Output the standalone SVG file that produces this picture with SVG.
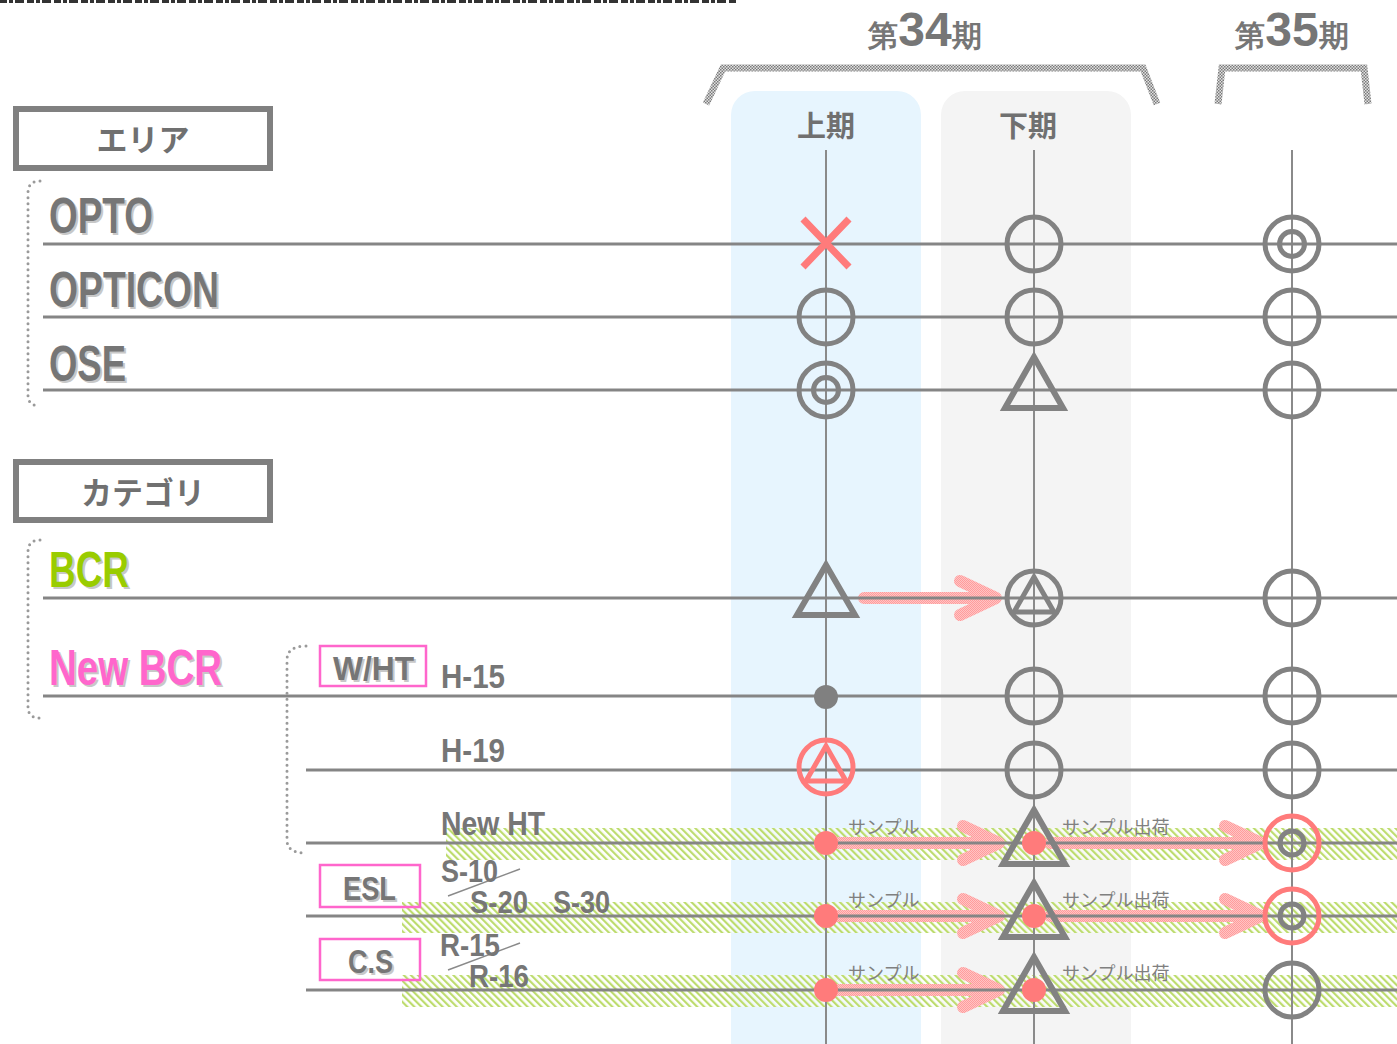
<svg xmlns="http://www.w3.org/2000/svg" width="1397" height="1044" viewBox="0 0 1397 1044">
<style>
.hl{stroke:#858585;stroke-width:3;fill:none}
.vl{stroke:#8a8a8a;stroke-width:2;fill:none}
.dot{stroke:#9a9a9a;stroke-width:3;stroke-dasharray:0 6;stroke-linecap:round;fill:none}
.big{font-family:"Liberation Sans Narrow","Liberation Sans",Arial,sans-serif;font-weight:bold}
.gt{fill:#767676}
.sh{fill:#c8c8c8}
.jp{font-family:"Noto Sans CJK JP","Noto Sans",sans-serif;font-weight:bold;fill:#707070}
.sm{font-family:"Noto Sans CJK JP","Noto Sans",sans-serif;fill:#808080;font-size:18px}
.ring{fill:none;stroke:#828282;stroke-width:5}
.rring{fill:none;stroke:#ff7b7b;stroke-width:5}
.box{fill:#fff;stroke:#808080;stroke-width:6}
.pbox{fill:none;stroke:#ff66cc;stroke-width:2.5}
.arr{fill:none;stroke:url(#pk);stroke-width:12;stroke-linecap:round;stroke-linejoin:round}
.sl{stroke:#8a8a8a;stroke-width:1.5}
</style>
<defs>
<pattern id="hatch" width="5" height="5" patternUnits="userSpaceOnUse" patternTransform="rotate(-45)">
<rect width="5" height="5" fill="#ffffff" fill-opacity="0.55"/>
<rect width="2.2" height="5" fill="#bddc6e"/>
</pattern>
<pattern id="chk" width="3" height="3" patternUnits="userSpaceOnUse">
<rect width="3" height="3" fill="#e2e2e2"/>
<rect width="1.5" height="1.5" fill="#7a7a7a"/>
<rect x="1.5" y="1.5" width="1.5" height="1.5" fill="#7a7a7a"/>
</pattern>
<pattern id="pk" width="2" height="2" patternUnits="userSpaceOnUse">
<rect width="2" height="2" fill="#ffc4c4"/>
<rect width="1" height="1" fill="#ff9c9c"/>
<rect x="1" y="1" width="1" height="1" fill="#ff9c9c"/>
</pattern>
<g id="circ"><circle r="27" class="ring"/></g>
<g id="dbl"><circle r="27" class="ring"/><circle r="12.5" class="ring"/></g>
<g id="dtri"><path d="M0,-33 L-31,21 L31,21 Z" fill="none" stroke="#828282" stroke-width="6"/><circle r="12" fill="#ff7b7b"/></g>
<g id="rdbl"><circle r="27" class="rring"/><circle r="12" class="ring"/></g>
</defs>
<rect width="1397" height="1044" fill="#fff"/>
<line x1="0" y1="1.5" x2="737" y2="1.5" stroke="#333" stroke-width="3" stroke-dasharray="7 2 4 2 9 3"/>
<!-- columns -->
<rect x="731" y="91" width="190" height="980" rx="24" fill="#e7f5fe"/>
<rect x="941" y="91" width="190" height="980" rx="24" fill="#f4f4f4"/>
<!-- header -->
<g id="h34">
<polyline points="706,104 723,68 1143,68 1157,104" fill="none" stroke="url(#chk)" stroke-width="7"/>
<text x="925" y="46" text-anchor="middle" class="big gt" font-size="48"><tspan font-size="30">第</tspan>34<tspan font-size="30">期</tspan></text>
</g>
<g id="h35">
<polyline points="1218,104 1222,68 1364,68 1368,104" fill="none" stroke="url(#chk)" stroke-width="7"/>
<text x="1292" y="46" text-anchor="middle" class="big gt" font-size="48"><tspan font-size="30">第</tspan>35<tspan font-size="30">期</tspan></text>
</g>
<g id="k1"><text x="826" y="137" text-anchor="middle" class="jp" font-size="29">上期</text></g>
<g id="k2"><text x="1028" y="137" text-anchor="middle" class="jp" font-size="29">下期</text></g>
<!-- green bands -->
<rect x="446" y="828" width="951" height="32" fill="url(#hatch)"/>
<rect x="402" y="902" width="995" height="31" fill="url(#hatch)"/>
<rect x="402" y="975" width="995" height="32" fill="url(#hatch)"/>
<!-- connectors -->
<g id="connectors">
<path class="arr" d="M864,598 H995 M960,581 L996,598 L960,615"/>
<path class="arr" d="M838,843 H998 M963,826 L999,843 L963,860"/>
<path class="arr" d="M1050,843 H1258 M1225,826 L1261,843 L1225,860"/>
<path class="arr" d="M838,916 H998 M963,899 L999,916 L963,933"/>
<path class="arr" d="M1050,916 H1258 M1225,899 L1261,916 L1225,933"/>
<path class="arr" d="M838,990 H998 M963,973 L999,990 L963,1007"/>
<line class="vl" x1="826" y1="150" x2="826" y2="1044"/>
<line class="vl" x1="1034" y1="150" x2="1034" y2="1044"/>
<line class="vl" x1="1292" y1="150" x2="1292" y2="1044"/>
<line class="hl" x1="43" y1="244" x2="1397" y2="244"/>
<line class="hl" x1="43" y1="317" x2="1397" y2="317"/>
<line class="hl" x1="43" y1="390" x2="1397" y2="390"/>
<line class="hl" x1="43" y1="598" x2="1397" y2="598"/>
<line class="hl" x1="43" y1="696" x2="1397" y2="696"/>
<line class="hl" x1="306" y1="770" x2="1397" y2="770"/>
<line class="hl" x1="306" y1="843" x2="1397" y2="843"/>
<line class="hl" x1="306" y1="916" x2="1397" y2="916"/>
<line class="hl" x1="306" y1="990" x2="1397" y2="990"/>
<path class="dot" d="M40,181 Q28,181 28,193 L28,395 Q28,406 40,406"/>
<path class="dot" d="M40,540 Q28,540 28,552 L28,707 Q28,718 40,718"/>
<path class="dot" d="M306,646 Q287,646 287,660 L287,840 Q287,853 306,853"/>
<line class="sl" x1="448" y1="896" x2="520" y2="869"/>
<line class="sl" x1="448" y1="970" x2="520" y2="943"/>
</g>
<!-- left labels -->
<g id="area"><rect x="16" y="109" width="254" height="59" class="box"/><text x="143" y="151" text-anchor="middle" class="jp" font-size="31">エリア</text></g>
<g id="cat"><rect x="16" y="462" width="254" height="58" class="box"/><text x="143" y="504" text-anchor="middle" class="jp" font-size="31">カテゴリ</text></g>
<g id="opto"><text x="51" y="235" class="big sh" font-size="50" textLength="104" lengthAdjust="spacingAndGlyphs">OPTO</text><text x="49" y="233" class="big gt" font-size="50" textLength="104" lengthAdjust="spacingAndGlyphs">OPTO</text></g>
<g id="opticon"><text x="51" y="309" class="big sh" font-size="50" textLength="170" lengthAdjust="spacingAndGlyphs">OPTICON</text><text x="49" y="307" class="big gt" font-size="50" textLength="170" lengthAdjust="spacingAndGlyphs">OPTICON</text></g>
<g id="ose"><text x="51" y="383" class="big sh" font-size="50" textLength="77" lengthAdjust="spacingAndGlyphs">OSE</text><text x="49" y="381" class="big gt" font-size="50" textLength="77" lengthAdjust="spacingAndGlyphs">OSE</text></g>
<g id="bcr"><text x="51" y="589" class="big sh" font-size="50" textLength="80" lengthAdjust="spacingAndGlyphs">BCR</text><text x="49" y="587" class="big" fill="#99cc00" font-size="50" textLength="80" lengthAdjust="spacingAndGlyphs">BCR</text></g>
<g id="newbcr"><text x="51" y="687" class="big sh" font-size="50" textLength="173" lengthAdjust="spacingAndGlyphs">New BCR</text><text x="49" y="685" class="big" fill="#ff66cc" font-size="50" textLength="173" lengthAdjust="spacingAndGlyphs">New BCR</text></g>
<g id="wht"><rect x="320" y="646" width="106" height="40" class="pbox"/><text x="335" y="682" class="big sh" font-size="34" textLength="81" lengthAdjust="spacingAndGlyphs">W/HT</text><text x="333" y="680" class="big gt" font-size="34" textLength="81" lengthAdjust="spacingAndGlyphs">W/HT</text></g>
<g id="esl"><rect x="320" y="865" width="100" height="42" class="pbox"/><text x="345" y="902" class="big sh" font-size="33" textLength="53" lengthAdjust="spacingAndGlyphs">ESL</text><text x="343" y="900" class="big gt" font-size="33" textLength="53" lengthAdjust="spacingAndGlyphs">ESL</text></g>
<g id="cs"><rect x="320" y="939" width="100" height="41" class="pbox"/><text x="350" y="975" class="big sh" font-size="33" textLength="45" lengthAdjust="spacingAndGlyphs">C.S</text><text x="348" y="973" class="big gt" font-size="33" textLength="45" lengthAdjust="spacingAndGlyphs">C.S</text></g>
<g id="h15"><text x="441" y="688" class="big gt" font-size="33" textLength="64" lengthAdjust="spacingAndGlyphs">H-15</text></g>
<g id="h19"><text x="441" y="762" class="big gt" font-size="33" textLength="64" lengthAdjust="spacingAndGlyphs">H-19</text></g>
<g id="newht"><text x="441" y="835" class="big gt" font-size="33" textLength="104" lengthAdjust="spacingAndGlyphs">New HT</text></g>
<g id="s10"><text x="441" y="882" class="big gt" font-size="32" textLength="57" lengthAdjust="spacingAndGlyphs">S-10</text></g>
<g id="s20"><text x="470" y="913" class="big gt" font-size="32" textLength="58" lengthAdjust="spacingAndGlyphs">S-20</text></g>
<g id="s30"><text x="553" y="913" class="big gt" font-size="32" textLength="57" lengthAdjust="spacingAndGlyphs">S-30</text></g>
<g id="r15"><text x="440" y="956" class="big gt" font-size="32" textLength="60" lengthAdjust="spacingAndGlyphs">R-15</text></g>
<g id="r16"><text x="469" y="987" class="big gt" font-size="32" textLength="60" lengthAdjust="spacingAndGlyphs">R-16</text></g>
<!-- arrow labels -->
<g id="lab1"><text x="848" y="834" class="sm">サンプル</text><text x="1062" y="834" class="sm">サンプル出荷</text></g>
<g id="lab2"><text x="848" y="907" class="sm">サンプル</text><text x="1062" y="907" class="sm">サンプル出荷</text></g>
<g id="lab3"><text x="848" y="980" class="sm">サンプル</text><text x="1062" y="980" class="sm">サンプル出荷</text></g>
<!-- symbols -->
<g id="s-opto-1"><path d="M803,219 L849,267 M849,219 L803,267" stroke="#ff7b7b" stroke-width="7"/></g>
<g id="s-opto-2"><use href="#circ" x="1034" y="244"/></g>
<g id="s-opto-3"><use href="#dbl" x="1292" y="244"/></g>
<g id="s-opticon-1"><use href="#circ" x="826" y="317"/></g>
<g id="s-opticon-2"><use href="#circ" x="1034" y="317"/></g>
<g id="s-opticon-3"><use href="#circ" x="1292" y="317"/></g>
<g id="s-ose-1"><use href="#dbl" x="826" y="390"/></g>
<g id="s-ose-2"><path d="M1034,357 L1005,408 L1063,408 Z" fill="none" stroke="#828282" stroke-width="6"/></g>
<g id="s-ose-3"><use href="#circ" x="1292" y="390"/></g>
<g id="s-bcr-1"><path d="M826,565 L797,615 L855,615 Z" fill="none" stroke="#828282" stroke-width="6"/></g>
<g id="s-bcr-2"><circle cx="1034" cy="598" r="27" class="ring"/><path d="M1034,577 L1014,612 L1054,612 Z" fill="none" stroke="#828282" stroke-width="5"/></g>
<g id="s-bcr-3"><use href="#circ" x="1292" y="598"/></g>
<g id="s-h15-1"><circle cx="826" cy="697" r="12" fill="#808080"/></g>
<g id="s-h15-2"><use href="#circ" x="1034" y="696"/></g>
<g id="s-h15-3"><use href="#circ" x="1292" y="696"/></g>
<g id="s-h19-1"><circle cx="826" cy="767" r="27" class="rring"/><path d="M826,746 L806,781 L846,781 Z" fill="none" stroke="#ff7b7b" stroke-width="5"/></g>
<g id="s-h19-2"><use href="#circ" x="1034" y="770"/></g>
<g id="s-h19-3"><use href="#circ" x="1292" y="770"/></g>
<g id="s-nht-1"><circle cx="826" cy="843" r="12" fill="#ff7b7b"/></g>
<g id="s-nht-2"><use href="#dtri" x="1034" y="843"/></g>
<g id="s-nht-3"><use href="#rdbl" x="1292" y="843"/></g>
<g id="s-esl-1"><circle cx="826" cy="916" r="12" fill="#ff7b7b"/></g>
<g id="s-esl-2"><use href="#dtri" x="1034" y="916"/></g>
<g id="s-esl-3"><use href="#rdbl" x="1292" y="916"/></g>
<g id="s-cs-1"><circle cx="826" cy="990" r="12" fill="#ff7b7b"/></g>
<g id="s-cs-2"><use href="#dtri" x="1034" y="990"/></g>
<g id="s-cs-3"><use href="#circ" x="1292" y="990"/></g>
</svg>
